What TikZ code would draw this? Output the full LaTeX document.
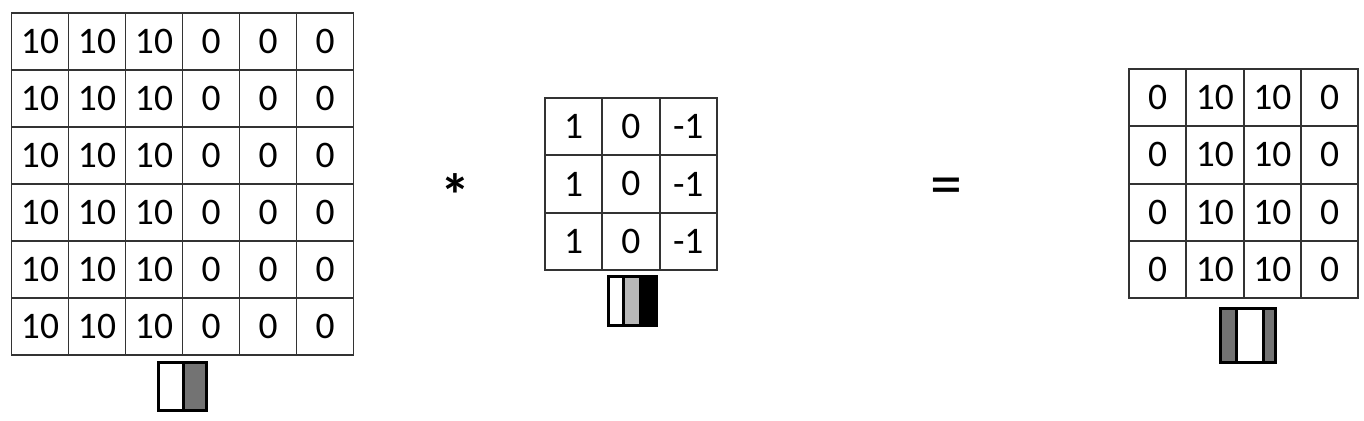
\documentclass[tikz,border=0pt]{standalone}
\usepackage{fontspec}
\setmainfont{Carlito}
\begin{document}
\begin{tikzpicture}[x=1pt,y=-1pt,
  cellL/.style={draw=black!80,line width=1.8pt,minimum size=57pt,inner sep=0pt,font=\fontsize{37.5}{42}\selectfont},
  cellM/.style={cellL,minimum size=57.3pt},
  op/.style={inner sep=0pt},
  icon/.style={draw=black,line width=3pt},
  ]
\useasboundingbox (0,0) rectangle (1364,420);
% left 6x6
\foreach \r in {0,...,5}{
  \foreach \c/\v in {0/10,1/10,2/10,3/0,4/0,5/0}{
    \node[cellL] (L-\r-\c) at ({11.5+28.5+57*\c},{13+28.5+57*\r}) {\v};
  }
}
% middle 3x3
\foreach \r in {0,1,2}{
  \foreach \c/\v in {0/1,1/0,2/-1}{
    \node[cellM] (M-\r-\c) at ({545+28.65+57.3*\c},{98+28.65+57.3*\r}) {\v};
  }
}
% right 4x4
\foreach \r in {0,...,3}{
  \foreach \c/\v in {0/0,1/10,2/10,3/0}{
    \node[cellM] (R-\r-\c) at ({1129+28.65+57.3*\c},{69+28.65+57.3*\r}) {\v};
  }
}
% operators
\node[op,font=\bfseries\fontsize{60}{60}\selectfont] (star) at (455,195) {*};
\node[op,font=\fontsize{64}{64}\selectfont] (eq) at (946,192) {=};
% left icon
\fill[black!55] (183,361) rectangle (208,412);
\draw[line width=3pt] (183,361) -- (183,412);
\draw[icon] (158.5,362.5) rectangle (206.5,410.5);
% middle icon
\fill[black!28] (624,275) rectangle (639,327);
\fill[black] (639,275) rectangle (658,327);
\draw[line width=3pt] (623,275) -- (623,327);
\draw[icon] (608.5,276.5) rectangle (656.5,325.5);
% right icon
\fill[black!55] (1219,307) rectangle (1236,364);
\fill[black!55] (1263,307) rectangle (1277,364);
\draw[line width=3pt] (1236,307) -- (1236,364);
\draw[line width=3pt] (1263,307) -- (1263,364);
\draw[icon] (1220.5,308.5) rectangle (1275.5,362.5);
\end{tikzpicture}
\end{document}
